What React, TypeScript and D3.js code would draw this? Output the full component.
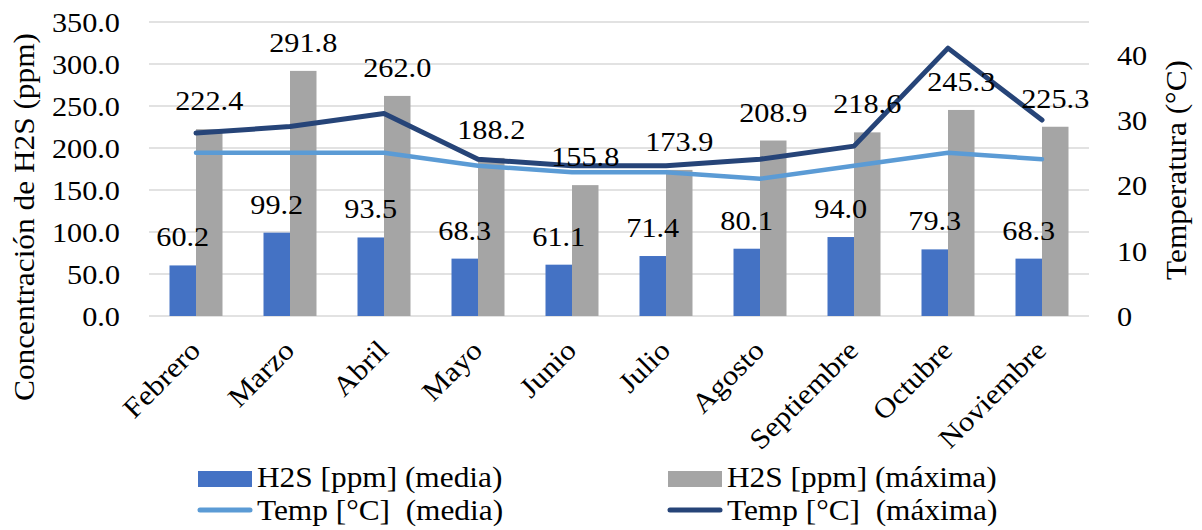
import React from "react";
import * as d3 from "d3";

const months = ["Febrero", "Marzo", "Abril", "Mayo", "Junio", "Julio", "Agosto", "Septiembre", "Octubre", "Noviembre"];
const h2sMedia = [60.2, 99.2, 93.5, 68.3, 61.1, 71.4, 80.1, 94.0, 79.3, 68.3];
const h2sMax = [222.4, 291.8, 262.0, 188.2, 155.8, 173.9, 208.9, 218.6, 245.3, 225.3];
const tempMedia = [25, 25, 25, 23, 22, 22, 21, 23, 25, 24];
const tempMax = [28, 29, 31, 24, 23, 23, 24, 26, 41, 30];
const leftTicks = [0, 50, 100, 150, 200, 250, 300, 350];
const rightTicks = [0, 10, 20, 30, 40];

const FONT = '"Liberation Serif", "Times New Roman", serif';
const SX = 1.1;

function Txt({ x, y, size, anchor = "start", rotate = 0, children, fill = "#000" }: any) {
  return (
    <g transform={`translate(${x},${y}) rotate(${rotate}) scale(${SX},1)`}>
      <text textAnchor={anchor} fontFamily={FONT} fontSize={size} fill={fill} style={{ whiteSpace: "pre" }}>
        {children}
      </text>
    </g>
  );
}

export default function App() {
  const W = 1202, H = 530;
  const left = 149, right = 1089, top = 22, bottom = 316;
  const x = d3.scaleBand<string>().domain(months).range([left, right]).padding(0);
  const yL = d3.scaleLinear().domain([0, 350]).range([bottom, top]);
  const yR = d3.scaleLinear().domain([0, 45]).range([bottom, top]);
  const bw = 26.5;
  const cx = (m: string) => (x(m) as number) + x.bandwidth() / 2;

  const lineGen = (vals: number[]) =>
    d3.line<number>().x((_, i) => cx(months[i])).y((v) => yR(v))(vals) as string;

  const blue = "#4472C4", gray = "#A5A5A5", light = "#5B9BD5", dark = "#264478";

  return (
    <svg width={W} height={H} style={{ position: "absolute", left: 0, top: 0, background: "#fff" }}>
      {leftTicks.map((t) => (
        <line key={t} x1={left} x2={right} y1={yL(t)} y2={yL(t)} stroke="#D9D9D9" strokeWidth={1.5} />
      ))}
      {months.map((m, i) => (
        <g key={m}>
          <rect x={cx(m) - bw} y={yL(h2sMedia[i])} width={bw} height={yL(0) - yL(h2sMedia[i])} fill={blue} />
          <rect x={cx(m)} y={yL(h2sMax[i])} width={bw} height={yL(0) - yL(h2sMax[i])} fill={gray} />
        </g>
      ))}
      <path d={lineGen(tempMedia)} fill="none" stroke={light} strokeWidth={4.5} strokeLinejoin="round" strokeLinecap="round" />
      <path d={lineGen(tempMax)} fill="none" stroke={dark} strokeWidth={5} strokeLinejoin="round" strokeLinecap="round" />
      {months.map((m, i) => (
        <g key={"l" + m}>
          <Txt x={cx(m) - bw / 2} y={yL(h2sMedia[i]) - 19} size={27.5} anchor="middle">
            {h2sMedia[i].toFixed(1)}
          </Txt>
          <Txt x={cx(m) + bw / 2} y={yL(h2sMax[i]) - 19} size={27.5} anchor="middle">
            {h2sMax[i].toFixed(1)}
          </Txt>
        </g>
      ))}
      {leftTicks.map((t) => (
        <Txt key={"lt" + t} x={120} y={yL(t) + 10} size={27.5} anchor="end">
          {t.toFixed(1)}
        </Txt>
      ))}
      {rightTicks.map((t) => (
        <Txt key={"rt" + t} x={1117} y={yR(t) + 10} size={27.5} anchor="start">
          {t}
        </Txt>
      ))}
      <Txt x={34} y={217} size={28.5} anchor="middle" rotate={-90}>
        Concentración de H2S (ppm)
      </Txt>
      <Txt x={1186} y={170} size={28.5} anchor="middle" rotate={-90}>
        Temperatura (°C)
      </Txt>
      {months.map((m) => (
        <Txt key={"c" + m} x={cx(m) + 6} y={352} size={28} anchor="end" rotate={-45}>
          {m}
        </Txt>
      ))}
      <rect x={198} y={471} width={54} height={16} fill={blue} />
      <Txt x={257} y={487} size={28.5}>{"H2S [ppm] (media)"}</Txt>
      <rect x={668} y={471} width={54} height={16} fill={gray} />
      <Txt x={727} y={487} size={28.5}>{"H2S [ppm] (máxima)"}</Txt>
      <line x1={200} x2={250} y1={510} y2={510} stroke={light} strokeWidth={5} strokeLinecap="round" />
      <Txt x={257} y={520} size={28.5}>{"Temp [°C]  (media)"}</Txt>
      <line x1={670} x2={720} y1={510} y2={510} stroke={dark} strokeWidth={5} strokeLinecap="round" />
      <Txt x={727} y={520} size={28.5}>{"Temp [°C]  (máxima)"}</Txt>
    </svg>
  );
}
